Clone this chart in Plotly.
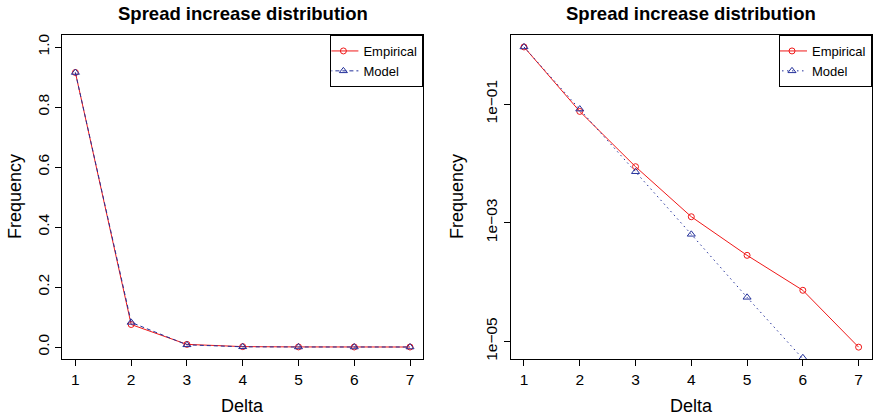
import plotly.graph_objects as go

# Spread increase (delta) and observed / fitted frequencies
delta = [1, 2, 3, 4, 5, 6, 7]
empirical = [0.915, 0.075, 0.00878, 1.26e-3, 2.82e-4, 7.26e-5, 8.0e-6]
model = [0.915, 0.082, 0.00723, 6.37e-4, 5.53e-5, 5.3e-6, 4.7e-7]

lin_ticks = [0.0, 0.2, 0.4, 0.6, 0.8, 1.0]
lin_ticktext = ["0.0", "0.2", "0.4", "0.6", "0.8", "1.0"]
log_ticks = [1e-1, 1e-3, 1e-5]
log_ticktext = ["1e\u221201", "1e\u221203", "1e\u221205"]

title_text = "Spread increase distribution"

W, H = 874, 419
FONT = "Liberation Sans, Arial, sans-serif"
RED = "#f01818"
BLUE = "#23309a"

# plot regions in pixels (left, right, top, bottom)
left_box = (62, 423.4, 35, 359)
right_box = (510.6, 872, 35, 359)


def xdom(b):
    return [b[0] / W, b[1] / W]


def ydom(b):
    return [(H - b[3]) / H, (H - b[2]) / H]


fig = go.Figure()

# left panel: linear frequency
fig.add_trace(go.Scatter(
    x=delta, y=empirical, name="Empirical", mode="lines+markers",
    line=dict(color=RED, width=1),
    marker=dict(symbol="circle-open", size=6, color=RED, line=dict(width=1)),
    xaxis="x", yaxis="y", legend="legend"))
fig.add_trace(go.Scatter(
    x=delta, y=model, name="Model", mode="lines+markers",
    line=dict(color=BLUE, width=1, dash="4px,3px"),
    marker=dict(symbol="triangle-up-open", size=7, color=BLUE, line=dict(width=1)),
    xaxis="x", yaxis="y", legend="legend"))

# right panel: log frequency
fig.add_trace(go.Scatter(
    x=delta, y=empirical, name="Empirical", mode="lines+markers",
    line=dict(color=RED, width=1),
    marker=dict(symbol="circle-open", size=6, color=RED, line=dict(width=1)),
    xaxis="x2", yaxis="y2", legend="legend2"))
fig.add_trace(go.Scatter(
    x=delta, y=model, name="Model", mode="lines+markers",
    line=dict(color=BLUE, width=1, dash="1.5px,3.5px"),
    marker=dict(symbol="triangle-up-open", size=7, color=BLUE, line=dict(width=1)),
    xaxis="x2", yaxis="y2", legend="legend2"))

axis_common = dict(
    showline=True, mirror=True, linecolor="black", linewidth=1,
    ticks="outside", ticklen=6, tickcolor="black", tickwidth=1,
    showgrid=False, zeroline=False, automargin=False,
    tickfont=dict(family=FONT, size=15.5, color="black"),
)

legend_common = dict(
    xanchor="right", yanchor="top",
    bordercolor="black", borderwidth=1, bgcolor="white",
    font=dict(family=FONT, size=13, color="black"),
    itemwidth=30, tracegroupgap=0, indentation=-8,
)

fig.update_layout(
    width=W, height=H, autosize=False,
    margin=dict(l=0, r=0, t=0, b=0),
    paper_bgcolor="white", plot_bgcolor="white",
    font=dict(family=FONT, color="black"),
    xaxis=dict(domain=xdom(left_box), range=[0.76, 7.24], anchor="y",
               tickvals=delta, **axis_common),
    yaxis=dict(domain=ydom(left_box), range=[-0.04, 1.04], anchor="x",
               tickvals=lin_ticks, ticktext=lin_ticktext, tickangle=-90,
               **axis_common),
    xaxis2=dict(domain=xdom(right_box), range=[0.76, 7.24], anchor="y2",
                tickvals=delta, **axis_common),
    yaxis2=dict(domain=ydom(right_box), type="log", range=[-5.2966, 0.1626],
                anchor="x2", tickvals=log_ticks, ticktext=log_ticktext,
                tickangle=-90, **axis_common),
    legend=dict(x=left_box[1] / W, y=ydom(left_box)[1], **legend_common),
    legend2=dict(x=right_box[1] / W, y=ydom(right_box)[1], **legend_common),
    showlegend=True,
)

annotations = []
for box in (left_box, right_box):
    cx = (box[0] + box[1]) / 2 / W
    annotations.append(dict(
        text="<b>" + title_text + "</b>", x=cx, y=(H - 13.5) / H,
        xref="paper", yref="paper", xanchor="center", yanchor="middle",
        showarrow=False, font=dict(family=FONT, size=18.5, color="black")))
    annotations.append(dict(
        text="Delta", x=cx, y=(H - 405.5) / H,
        xref="paper", yref="paper", xanchor="center", yanchor="middle",
        showarrow=False, font=dict(family=FONT, size=18, color="black")))
annotations.append(dict(
    text="Frequency", x=15 / W, y=(H - (35 + 359) / 2) / H, textangle=-90,
    xref="paper", yref="paper", xanchor="center", yanchor="middle",
    showarrow=False, font=dict(family=FONT, size=18, color="black")))
annotations.append(dict(
    text="Frequency", x=457 / W, y=(H - (35 + 359) / 2) / H, textangle=-90,
    xref="paper", yref="paper", xanchor="center", yanchor="middle",
    showarrow=False, font=dict(family=FONT, size=18, color="black")))
fig.update_layout(annotations=annotations)

fig.write_html("out.html")
